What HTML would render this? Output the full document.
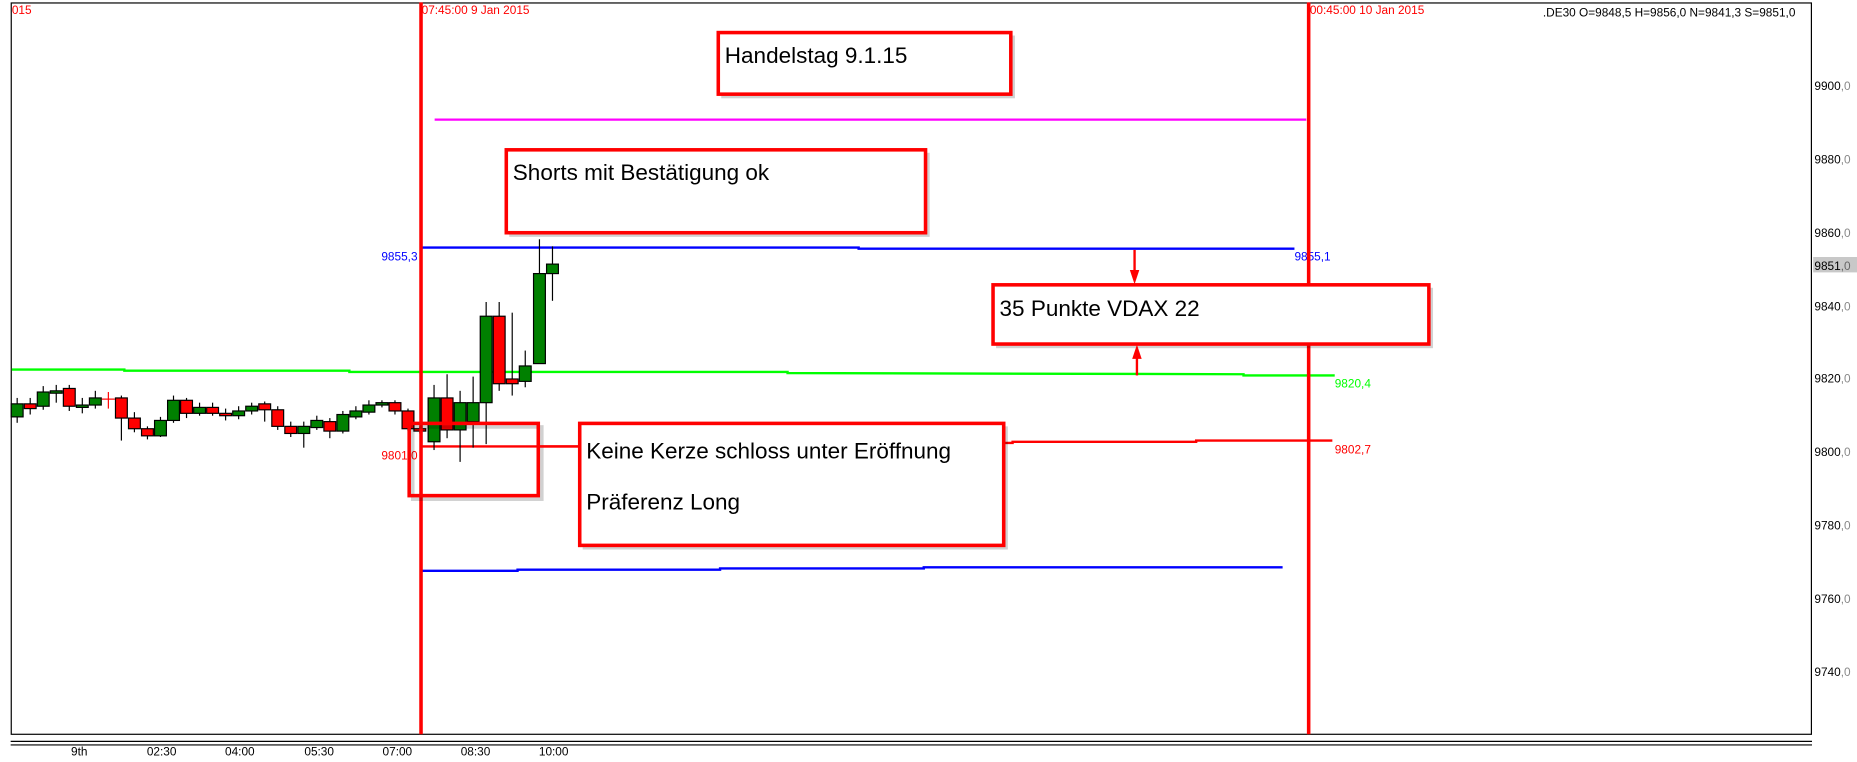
<!DOCTYPE html>
<html><head><meta charset="utf-8"><style>
html,body{margin:0;padding:0;background:#fff;}
svg{display:block;}
text{font-family:"Liberation Sans",sans-serif;}
</style></head><body>
<svg width="1857" height="762" viewBox="0 0 1568 643.4" xmlns="http://www.w3.org/2000/svg">
<rect x="0" y="0" width="1568" height="643.4" fill="#fff"/>
<rect x="9.5" y="2.5" width="1520" height="617.5" fill="none" stroke="#000" stroke-width="1"/>
<line x1="9" y1="626" x2="1530" y2="626" stroke="#000" stroke-width="1"/>
<line x1="9" y1="629" x2="1530" y2="629" stroke="#000" stroke-width="1"/>
<g font-size="10" fill="#000">
<text x="60" y="638">9th</text>
<text x="124" y="638">02:30</text>
<text x="190" y="638">04:00</text>
<text x="257" y="638">05:30</text>
<text x="323" y="638">07:00</text>
<text x="389" y="638">08:30</text>
<text x="455" y="638">10:00</text>
</g>
<g font-size="10" fill="#000">
<text x="1532" y="76">9900<tspan fill="#888">,0</tspan></text>
<text x="1532" y="138">9880<tspan fill="#888">,0</tspan></text>
<text x="1532" y="200">9860<tspan fill="#888">,0</tspan></text>
<rect x="1531" y="217" width="37" height="13" fill="#c8c8c8"/>
<text x="1532" y="228">9851<tspan fill="#666">,0</tspan></text>
<text x="1532" y="262">9840<tspan fill="#888">,0</tspan></text>
<text x="1532" y="323">9820<tspan fill="#888">,0</tspan></text>
<text x="1532" y="385">9800<tspan fill="#888">,0</tspan></text>
<text x="1532" y="447">9780<tspan fill="#888">,0</tspan></text>
<text x="1532" y="509">9760<tspan fill="#888">,0</tspan></text>
<text x="1532" y="571">9740<tspan fill="#888">,0</tspan></text>
</g>
<text x="10" y="12" font-size="10" fill="#f00">015</text>
<text x="356" y="12" font-size="10" fill="#f00">07:45:00 9 Jan 2015</text>
<text x="1106" y="12" font-size="10" fill="#f00">00:45:00 10 Jan 2015</text>
<text x="1516" y="14" font-size="10" fill="#000" text-anchor="end">.DE30 O=9848,5 H=9856,0 N=9841,3 S=9851,0</text>

<line x1="367" y1="101" x2="1103" y2="101" stroke="#ff00ff" stroke-width="2"/>
<polyline points="356,209 725,209 725,210 1093,210" fill="none" stroke="#0000ff" stroke-width="2"/>
<polyline points="10,312 105,312 105,313 295,313 295,314 665,314 665,315 1050,316 1050,317 1127,317" fill="none" stroke="#00ff00" stroke-width="2"/>
<polyline points="356,377 497,377 497,374 855,374 855,373 1010,373 1010,372 1125,372" fill="none" stroke="#ff0000" stroke-width="2"/>
<polyline points="356,482 437,482 437,481 608,481 608,480 780,480 780,479 1083,479" fill="none" stroke="#0000ff" stroke-width="2"/>
<g font-size="10">
<text x="322" y="220" fill="#00f">9855,3</text>
<text x="1093" y="220" fill="#00f">9855,1</text>
<text x="1127" y="327" fill="#00ff00">9820,4</text>
<text x="322" y="388" fill="#f00">9801,0</text>
<text x="1127" y="383" fill="#f00">9802,7</text>
</g>

<g stroke="#000" stroke-width="1">
<line x1="14.5" y1="336" x2="14.5" y2="357"/><rect x="9.5" y="341" width="10" height="11" fill="#008000"/>
<line x1="25.5" y1="336" x2="25.5" y2="350"/><rect x="20.5" y="341" width="10" height="4" fill="#f00"/>
<line x1="36.5" y1="326" x2="36.5" y2="346"/><rect x="31.5" y="331" width="10" height="12" fill="#008000"/>
<line x1="47.5" y1="325" x2="47.5" y2="340"/><rect x="42.5" y="330" width="10" height="2" fill="#008000"/>
<line x1="58.5" y1="325" x2="58.5" y2="347"/><rect x="53.5" y="328" width="10" height="15" fill="#f00"/>
<line x1="69.5" y1="336" x2="69.5" y2="349"/><rect x="64.5" y="342" width="10" height="2" fill="#008000"/>
<line x1="80.5" y1="330" x2="80.5" y2="345"/><rect x="75.5" y="336" width="10" height="6" fill="#008000"/>
<line x1="91.5" y1="331" x2="91.5" y2="345" stroke="#f00"/><line x1="86" y1="337" x2="97" y2="337" stroke="#f00"/>
<line x1="102.5" y1="334" x2="102.5" y2="372"/><rect x="97.5" y="336" width="10" height="17" fill="#f00"/>
<line x1="113.5" y1="348" x2="113.5" y2="365"/><rect x="108.5" y="353" width="10" height="9" fill="#f00"/>
<line x1="124.5" y1="360" x2="124.5" y2="371"/><rect x="119.5" y="362" width="10" height="6" fill="#f00"/>
<line x1="135.5" y1="352" x2="135.5" y2="369"/><rect x="130.5" y="355" width="10" height="13" fill="#008000"/>
<line x1="146.5" y1="334" x2="146.5" y2="357"/><rect x="141.5" y="338" width="10" height="17" fill="#008000"/>
<line x1="157.5" y1="336" x2="157.5" y2="353"/><rect x="152.5" y="338" width="10" height="11" fill="#f00"/>
<line x1="168.5" y1="340" x2="168.5" y2="351"/><rect x="163.5" y="344" width="10" height="5" fill="#008000"/>
<line x1="179.5" y1="340" x2="179.5" y2="351"/><rect x="174.5" y="344" width="10" height="5" fill="#f00"/>
<line x1="190.5" y1="345" x2="190.5" y2="355"/><rect x="185.5" y="349" width="10" height="2" fill="#f00"/>
<line x1="201.5" y1="343" x2="201.5" y2="354"/><rect x="196.5" y="347" width="10" height="4" fill="#008000"/>
<line x1="212.5" y1="340" x2="212.5" y2="350"/><rect x="207.5" y="343" width="10" height="4" fill="#008000"/>
<line x1="223.5" y1="339" x2="223.5" y2="356"/><rect x="218.5" y="341" width="10" height="5" fill="#f00"/>
<line x1="234.5" y1="343" x2="234.5" y2="363"/><rect x="229.5" y="346" width="10" height="14" fill="#f00"/>
<line x1="245.5" y1="356" x2="245.5" y2="369"/><rect x="240.5" y="360" width="10" height="6" fill="#f00"/>
<line x1="256.5" y1="356" x2="256.5" y2="378"/><rect x="251.5" y="360" width="10" height="6" fill="#008000"/>
<line x1="267.5" y1="351" x2="267.5" y2="363"/><rect x="262.5" y="355" width="10" height="6" fill="#008000"/>
<line x1="278.5" y1="353" x2="278.5" y2="370"/><rect x="273.5" y="356" width="10" height="8" fill="#f00"/>
<line x1="289.5" y1="347" x2="289.5" y2="366"/><rect x="284.5" y="350" width="10" height="14" fill="#008000"/>
<line x1="300.5" y1="343" x2="300.5" y2="354"/><rect x="295.5" y="347" width="10" height="5" fill="#008000"/>
<line x1="311.5" y1="338" x2="311.5" y2="350"/><rect x="306.5" y="342" width="10" height="6" fill="#008000"/>
<line x1="322.5" y1="338" x2="322.5" y2="344"/><rect x="317.5" y="340" width="10" height="2" fill="#008000"/>
<line x1="333.5" y1="338" x2="333.5" y2="350"/><rect x="328.5" y="340" width="10" height="7" fill="#f00"/>
<line x1="344.5" y1="345" x2="344.5" y2="364"/><rect x="339.5" y="347" width="10" height="15" fill="#f00"/>
<line x1="354.5" y1="360" x2="354.5" y2="366"/><rect x="349.5" y="362" width="10" height="2" fill="#f00"/>
<line x1="366.5" y1="325" x2="366.5" y2="380"/><rect x="361.5" y="336" width="10" height="37" fill="#008000"/>
<line x1="377.5" y1="316" x2="377.5" y2="370"/><rect x="372.5" y="336" width="10" height="27" fill="#f00"/>
<line x1="388.5" y1="330" x2="388.5" y2="390"/><rect x="383.5" y="340" width="10" height="23" fill="#008000"/>
<line x1="399.5" y1="318" x2="399.5" y2="378"/><rect x="394.5" y="340" width="10" height="16" fill="#008000"/>
<line x1="410.5" y1="255" x2="410.5" y2="375"/><rect x="405.5" y="267" width="10" height="73" fill="#008000"/>
<line x1="421.5" y1="255" x2="421.5" y2="330"/><rect x="416.5" y="267" width="10" height="57" fill="#f00"/>
<line x1="432.5" y1="264" x2="432.5" y2="334"/><rect x="427.5" y="320" width="10" height="4" fill="#f00"/>
<line x1="443.5" y1="296" x2="443.5" y2="327"/><rect x="438.5" y="309" width="10" height="13" fill="#008000"/>
<line x1="455.5" y1="202" x2="455.5" y2="307"/><rect x="450.5" y="231" width="10" height="76" fill="#008000"/>
<line x1="466.5" y1="208" x2="466.5" y2="254"/><rect x="461.5" y="223" width="10" height="8" fill="#008000"/>
</g>

<line x1="355.5" y1="2" x2="355.5" y2="620" stroke="#f00" stroke-width="3"/>
<line x1="1105" y1="2" x2="1105" y2="620" stroke="#f00" stroke-width="3"/>

<g fill="#000" opacity="0.18">
<rect x="609" y="30" width="248" height="53"/>
<rect x="430" y="129" width="355" height="71"/>
<rect x="841" y="243" width="369" height="51"/>
<rect x="492" y="360" width="359" height="104"/>
</g>
<rect x="348.5" y="360.5" width="109" height="61" fill="none" stroke="#000" stroke-opacity="0.18" stroke-width="3"/>
<g fill="none" stroke="#f00" stroke-width="3">
<rect x="606.5" y="27.5" width="247" height="52" fill="#fff"/>
<rect x="427.5" y="126.5" width="354" height="70" fill="#fff"/>
<rect x="838.5" y="240.5" width="368" height="50" fill="#fff"/>
<rect x="489.5" y="357.5" width="358" height="103" fill="#fff"/>
<rect x="345.5" y="357.5" width="109" height="61"/>
</g>
<line x1="455" y1="377" x2="489" y2="377" stroke="#f00" stroke-width="2"/>
<g font-size="19" fill="#000">
<text x="612" y="53">Handelstag 9.1.15</text>
<text x="433" y="152">Shorts mit Bestätigung ok</text>
<text x="844" y="267">35 Punkte VDAX 22</text>
<text x="495" y="387">Keine Kerze schloss unter Eröffnung</text>
<text x="495" y="430">Präferenz Long</text>
</g>
<line x1="958" y1="211" x2="958" y2="232" stroke="#f00" stroke-width="2"/>
<polygon points="954,228 962,228 958,240" fill="#f00"/>
<line x1="960" y1="300" x2="960" y2="317" stroke="#f00" stroke-width="2"/>
<polygon points="956,303 964,303 960,291" fill="#f00"/>
</svg>
</body></html>
